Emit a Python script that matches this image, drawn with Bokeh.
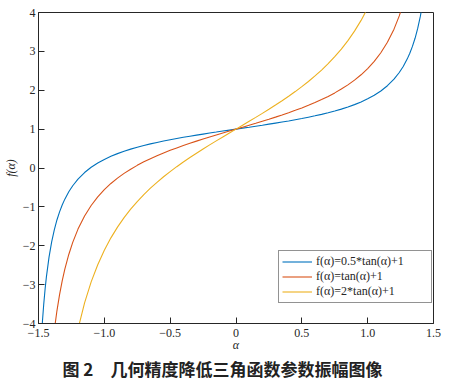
from bokeh.plotting import figure
from bokeh.models import FixedTicker, Range1d, Title
from bokeh.embed import file_html
from bokeh.resources import INLINE

alpha = [-1.50, -1.49, -1.48, -1.47, -1.46, -1.45, -1.44, -1.42, -1.40, -1.38, -1.36, -1.34, -1.32, -1.30,
         -1.27, -1.24, -1.20, -1.15, -1.10, -1.05, -1.00, -0.95, -0.90, -0.85, -0.80, -0.75, -0.70, -0.65,
         -0.60, -0.55, -0.50, -0.45, -0.40, -0.35, -0.30, -0.25, -0.20, -0.15, -0.10, -0.05, 0.0,
         0.05, 0.10, 0.15, 0.20, 0.25, 0.30, 0.35, 0.40, 0.45, 0.50, 0.55, 0.60, 0.65, 0.70, 0.75, 0.80,
         0.85, 0.90, 0.95, 1.00, 1.05, 1.10, 1.15, 1.20, 1.24, 1.27, 1.30, 1.32, 1.34, 1.36, 1.38, 1.40,
         1.42, 1.44, 1.45, 1.46, 1.47, 1.48, 1.49, 1.50]

f_half = [-6.051, -5.175, -4.492, -3.944, -3.494, -3.119, -2.801, -2.291, -1.899, -1.589, -1.337, -1.128,
          -0.952, -0.801, -0.612, -0.456, -0.286, -0.117, 0.018, 0.128, 0.221, 0.301, 0.370, 0.431, 0.485,
          0.534, 0.579, 0.620, 0.658, 0.693, 0.727, 0.758, 0.789, 0.817, 0.845, 0.872, 0.899, 0.924, 0.950,
          0.975, 1.000,
          1.025, 1.050, 1.076, 1.101, 1.128, 1.155, 1.183, 1.211, 1.242, 1.273, 1.307, 1.342, 1.380, 1.421,
          1.466, 1.515, 1.569, 1.630, 1.699, 1.779, 1.872, 1.982, 2.117, 2.286, 2.456, 2.612, 2.801, 2.952,
          3.128, 3.337, 3.589, 3.899, 4.291, 4.801, 5.119, 5.494, 5.944, 6.492, 7.175, 8.051]

f_one = [-13.101, -11.350, -9.983, -8.887, -7.989, -7.238, -6.602, -5.581, -4.798, -4.177, -3.673, -3.256,
         -2.903, -2.602, -2.224, -1.912, -1.572, -1.234, -0.965, -0.743, -0.557, -0.398, -0.260, -0.138,
         -0.030, 0.068, 0.158, 0.240, 0.316, 0.387, 0.454, 0.517, 0.577, 0.635, 0.691, 0.745, 0.797, 0.849,
         0.900, 0.950, 1.000,
         1.050, 1.100, 1.151, 1.203, 1.255, 1.309, 1.365, 1.423, 1.483, 1.546, 1.613, 1.684, 1.760, 1.842,
         1.932, 2.030, 2.138, 2.260, 2.398, 2.557, 2.743, 2.965, 3.234, 3.572, 3.912, 4.224, 4.602, 4.903,
         5.256, 5.673, 6.177, 6.798, 7.581, 8.602, 9.238, 9.989, 10.887, 11.983, 13.350, 15.101]

f_two = [-27.203, -23.700, -20.967, -18.775, -16.977, -15.476, -14.204, -12.162, -10.596, -9.355, -8.347,
         -7.511, -6.807, -6.204, -5.447, -4.824, -4.144, -3.469, -2.930, -2.487, -2.115, -1.797, -1.520,
         -1.277, -1.059, -0.863, -0.685, -0.520, -0.368, -0.226, -0.093, 0.034, 0.154, 0.270, 0.381, 0.489,
         0.595, 0.698, 0.799, 0.900, 1.000,
         1.100, 1.201, 1.302, 1.405, 1.511, 1.619, 1.730, 1.846, 1.966, 2.093, 2.226, 2.368, 2.520, 2.685,
         2.863, 3.059, 3.277, 3.520, 3.797, 4.115, 4.487, 4.930, 5.469, 6.144, 6.824, 7.447, 8.204, 8.807,
         9.511, 10.347, 11.355, 12.596, 14.162, 16.204, 17.476, 18.977, 20.775, 22.967, 25.700, 29.203]

series_labels = ["f(α)=0.5*tan(α)+1", "f(α)=tan(α)+1", "f(α)=2*tan(α)+1"]
series_colors = ["#0072BD", "#D95319", "#EDB120"]

x_ticks = [-1.5, -1.0, -0.5, 0, 0.5, 1.0, 1.5]
x_tick_labels = ["−1.5", "−1.0", "−0.5", "0", "0.5", "1.0", "1.5"]
y_ticks = [-4, -3, -2, -1, 0, 1, 2, 3, 4]
y_tick_labels = ["−4", "−3", "−2", "−1", "0", "1", "2", "3", "4"]

x_title = "α"
y_title = "f(α)"
caption = "图 2　几何精度降低三角函数参数振幅图像"

SERIF = "Liberation Serif"
DARK = "#262626"

p = figure(width=449, height=379, output_backend="svg", toolbar_location=None,
           x_range=Range1d(-1.5, 1.5), y_range=Range1d(-4, 4),
           min_border_left=38, min_border_right=16, min_border_top=12, min_border_bottom=56)
p.background_fill_color = "white"
p.border_fill_color = "white"
p.outline_line_color = DARK
p.outline_line_width = 1
p.xgrid.visible = False
p.ygrid.visible = False

for ys, lab, col in zip([f_half, f_one, f_two], series_labels, series_colors):
    p.line(alpha, ys, line_color=col, line_width=1.1, legend_label=lab)

for ax, ticks, labels in ((p.xaxis[0], x_ticks, x_tick_labels), (p.yaxis[0], y_ticks, y_tick_labels)):
    ax.ticker = FixedTicker(ticks=ticks)
    ax.major_label_overrides = {t: l for t, l in zip(ticks, labels)}
    ax.minor_tick_line_color = None
    ax.major_tick_in = 6
    ax.major_tick_out = 0
    ax.axis_line_color = DARK
    ax.major_tick_line_color = DARK
    ax.major_label_text_font = SERIF
    ax.major_label_text_font_size = "12px"
    ax.major_label_text_color = DARK
    ax.axis_label_text_font = SERIF
    ax.axis_label_text_font_size = "12px"
    ax.axis_label_text_font_style = "italic"
    ax.axis_label_text_color = DARK

p.xaxis.axis_label = x_title
p.yaxis.axis_label = y_title
p.xaxis.major_label_standoff = 5
p.yaxis.major_label_standoff = 3
p.xaxis.axis_label_standoff = -2
p.yaxis.axis_label_standoff = 2

lg = p.legend[0]
lg.location = (240, 20)
lg.label_text_font = SERIF
lg.label_text_font_size = "12px"
lg.label_text_color = DARK
lg.border_line_color = DARK
lg.border_line_width = 1
lg.background_fill_color = "white"
lg.background_fill_alpha = 1
lg.padding = 3
lg.spacing = 0
lg.margin = 0
lg.glyph_width = 30
lg.glyph_height = 13
lg.label_height = 13
lg.label_width = 112
lg.label_standoff = 4

p.add_layout(Title(text=caption, align="left", offset=24, standoff=-2,
                   text_font="Noto Sans CJK SC", text_font_style="bold",
                   text_font_size="17px", text_color="#222222"), "below")

open("out.html", "w").write(file_html(p, INLINE))
